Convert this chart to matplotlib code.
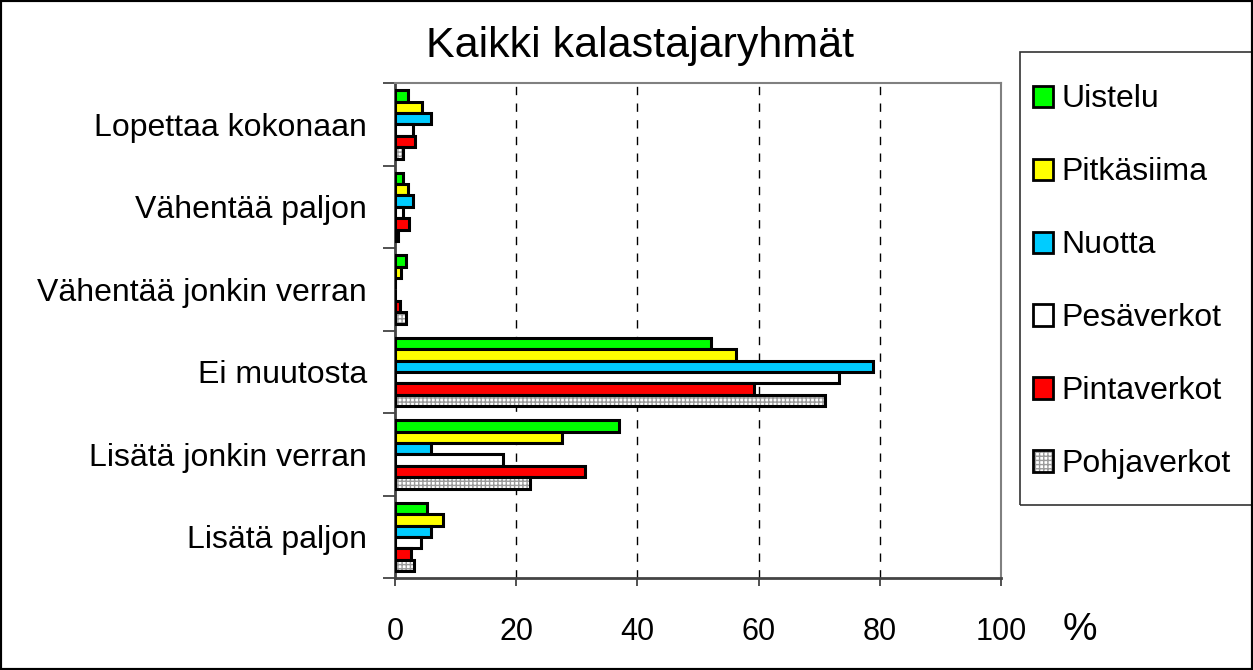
"""
Kaikki kalastajaryhmät - horizontal grouped bar chart.
"""

import matplotlib
matplotlib.use("Agg")
import matplotlib.pyplot as plt
from matplotlib.patches import Patch, Rectangle
import numpy as np

plt.rcParams['font.family'] = ['Liberation Sans', 'DejaVu Sans']

categories = ["Lopettaa kokonaan", "Vähentää paljon", "Vähentää jonkin verran",
              "Ei muutosta", "Lisätä jonkin verran", "Lisätä paljon"]
series_names = ["Uistelu", "Pitkäsiima", "Nuotta", "Pesäverkot", "Pintaverkot", "Pohjaverkot"]

uistelu = [2.1, 1.3, 1.9, 52.1, 36.9, 5.3]
pitkasiima = [4.5, 2.2, 1.0, 56.3, 27.6, 8.0]
nuotta = [5.9, 3.0, 0.0, 78.9, 5.9, 5.9]
pesaverkot = [2.9, 1.4, 0.0, 73.2, 17.9, 4.3]
pintaverkot = [3.3, 2.4, 0.9, 59.2, 31.3, 2.7]
pohjaverkot = [1.4, 0.5, 1.8, 70.9, 22.2, 3.2]

series = [uistelu, pitkasiima, nuotta, pesaverkot, pintaverkot, pohjaverkot]
colors = ["#00ff00", "#ffff00", "#00ccff", "#ffffff", "#ff0000", "#ffffff"]
xticks = [0, 20, 40, 60, 80, 100]

fig = plt.figure(figsize=(12.53, 6.70), dpi=100)
ax = fig.add_axes([0.3152, 0.137, 0.4838, 0.739])

n = len(categories)
centers = np.arange(n)[::-1].astype(float)  # top category first
bar_h = 0.138
for i, (name, vals) in enumerate(zip(series_names, series)):
    y = centers + (2.5 - i) * bar_h
    if name == "Pohjaverkot":
        ax.barh(y, vals, height=bar_h, color="white", edgecolor="#9a9a9a",
                hatch="++++", linewidth=0, zorder=3)
        ax.barh(y, vals, height=bar_h, fill=False, edgecolor="black",
                linewidth=2.2, zorder=4)
    else:
        ax.barh(y, vals, height=bar_h, color=colors[i], edgecolor="black",
                linewidth=2.2, zorder=3)

ax.set_xlim(0, 100)
ax.set_ylim(-0.5, n - 0.5)
ax.set_xticks(xticks)
ax.set_xticklabels([str(v) for v in xticks], fontsize=22)
ax.tick_params(axis="x", length=6, width=1.2, pad=22, color="#333333")

ax.set_yticks(centers)
ax.set_yticklabels(categories, fontsize=23)
ax.set_yticks(np.arange(-0.5, n), minor=True)
ax.tick_params(axis="y", which="major", length=0, pad=20)
ax.tick_params(axis="y", which="minor", length=9, width=1.2, color="#333333")

for x in xticks[1:]:
    ax.axvline(x, color="black" if x < 100 else "#808080", linestyle=(0, (6, 6)),
               linewidth=1, zorder=1)

for side in ["top", "right"]:
    ax.spines[side].set_color("#808080")
    ax.spines[side].set_linewidth(1.5)
ax.spines["left"].set_color("#444444")
ax.spines["left"].set_linewidth(2)
ax.spines["bottom"].set_color("#444444")
ax.spines["bottom"].set_linewidth(2)

fig.text(0.511, 0.931, "Kaikki kalastajaryhmät", fontsize=31, ha="center", va="center")
fig.text(0.862, 0.06, "%", fontsize=28, ha="center", va="center")

handles = []
for i, name in enumerate(series_names):
    if name == "Pohjaverkot":
        h = (Patch(facecolor="white", edgecolor="#9a9a9a", hatch="++++", linewidth=0),
             Patch(fill=False, edgecolor="black", linewidth=2))
    else:
        h = Patch(facecolor=colors[i], edgecolor="black", linewidth=2)
    handles.append(h)

# legend box drawn separately, it runs off the right edge
fig.patches.append(Rectangle((1020 / 1253, 1 - 505 / 670), 0.2, (505 - 52) / 670,
                             transform=fig.transFigure, fill=False,
                             edgecolor="#333333", linewidth=1.2))
fig.legend(handles, series_names, loc="upper left", bbox_to_anchor=(0.814, 0.893),
           fontsize=23, frameon=False, labelspacing=1.345,
           handlelength=0.65, handleheight=0.65, handletextpad=0.25,
           borderpad=0.4, borderaxespad=0)

fig.patches.append(Rectangle((0, 0), 1, 1, transform=fig.transFigure, fill=False,
                             edgecolor="black", linewidth=3))

plt.savefig("out.png", dpi=100)
